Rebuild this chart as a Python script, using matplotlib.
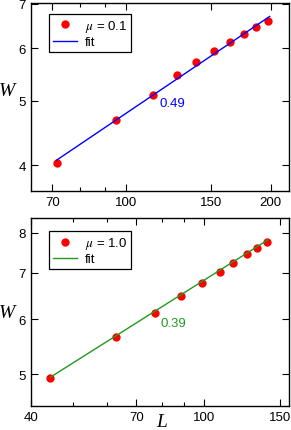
import matplotlib
matplotlib.use("Agg")
import matplotlib.pyplot as plt
from matplotlib.ticker import FixedLocator, FixedFormatter, NullLocator, NullFormatter

plt.rcParams['font.family'] = ['Liberation Sans', 'DejaVu Sans']
plt.rcParams['mathtext.fontset'] = 'stix'

# top panel, mu = 0.1
L1 = [71.5, 95.3, 113.7, 127.3, 139.5, 152.3, 164.3, 176.3, 186.5, 197.2]
W1 = [4.03, 4.67, 5.11, 5.46, 5.73, 5.95, 6.14, 6.31, 6.47, 6.60]
fit1_L = [71.5, 199.0]
fit1_W = [4.07, 6.70]
exp1 = "0.49"

# bottom panel, mu = 1.0
L2 = [44.2, 62.7, 77.2, 88.5, 98.9, 108.9, 117.1, 125.9, 132.8, 140.3]
W2 = [4.94, 5.66, 6.13, 6.49, 6.77, 7.02, 7.24, 7.44, 7.60, 7.76]
fit2_L = [44.4, 140.6]
fit2_W = [4.95, 7.81]
exp2 = "0.39"

fig = plt.figure(figsize=(2.91, 4.31), dpi=100)
ax1 = fig.add_axes([0.1065, 0.5552, 0.8866, 0.4355])
ax2 = fig.add_axes([0.1065, 0.0564, 0.8866, 0.4355])


def setup(ax, xlim, ylim, xmaj, xmin, ymaj):
    ax.set_xscale('log')
    ax.set_yscale('log')
    ax.set_xlim(*xlim)
    ax.set_ylim(*ylim)
    ax.xaxis.set_major_locator(FixedLocator(xmaj))
    ax.xaxis.set_major_formatter(FixedFormatter([str(v) for v in xmaj]))
    ax.xaxis.set_minor_locator(FixedLocator(xmin))
    ax.xaxis.set_minor_formatter(NullFormatter())
    ax.yaxis.set_major_locator(FixedLocator(ymaj))
    ax.yaxis.set_major_formatter(FixedFormatter([str(v) for v in ymaj]))
    ax.yaxis.set_minor_locator(NullLocator())
    ax.tick_params(which='both', direction='in', top=True, right=True,
                   labelsize=9.5, width=0.8, pad=3.5)
    ax.tick_params(which='major', length=5)
    ax.tick_params(which='minor', length=3)
    for s in ax.spines.values():
        s.set_linewidth(1.0)


def panel(ax, L, W, fL, fW, col, lab, ex, exL, exW, leg_y):
    ax.plot(L, W, 'o', color='red', markersize=6, markeredgewidth=0,
            label=lab, zorder=2)
    ax.plot(fL, fW, '-', color=col, lw=1.0, label='fit', zorder=3)
    ax.text(exL, exW, ex, color=col, fontsize=9.5, ha='left', va='center')
    leg = ax.legend(loc='upper left', bbox_to_anchor=(0.071, leg_y),
                    borderaxespad=0, fontsize=9.5, fancybox=False,
                    edgecolor='black', framealpha=1, labelspacing=0.15,
                    handlelength=1.8, handletextpad=0.6, borderpad=0.3)
    leg.get_frame().set_linewidth(0.9)


setup(ax1, (63.2, 218.4), (3.66, 7.02), [70, 100, 150, 200], [80, 90], [4, 5, 6, 7])
panel(ax1, L1, W1, fit1_L, fit1_W, '#0000ff', r'$\mu$ = 0.1', exp1, 117.3, 4.97, 0.941)

setup(ax2, (40, 157.3), (4.5, 8.4), [40, 70, 100, 150], [50, 60, 80, 90], [5, 6, 7, 8])
panel(ax2, L2, W2, fit2_L, fit2_W, '#1f9a1f', r'$\mu$ = 1.0', exp2, 79.7, 5.93, 0.929)

serif = dict(family=['Liberation Serif', 'DejaVu Serif'], style='italic', fontsize=14)
fig.text(7 / 291, 1 - 92 / 431, 'W', ha='center', va='center', **serif)
fig.text(7 / 291, 1 - 314 / 431, 'W', ha='center', va='center', **serif)
fig.text(162 / 291, 1 - 423 / 431, 'L', ha='center', va='center', **serif)

fig.savefig('out.png', dpi=100)
